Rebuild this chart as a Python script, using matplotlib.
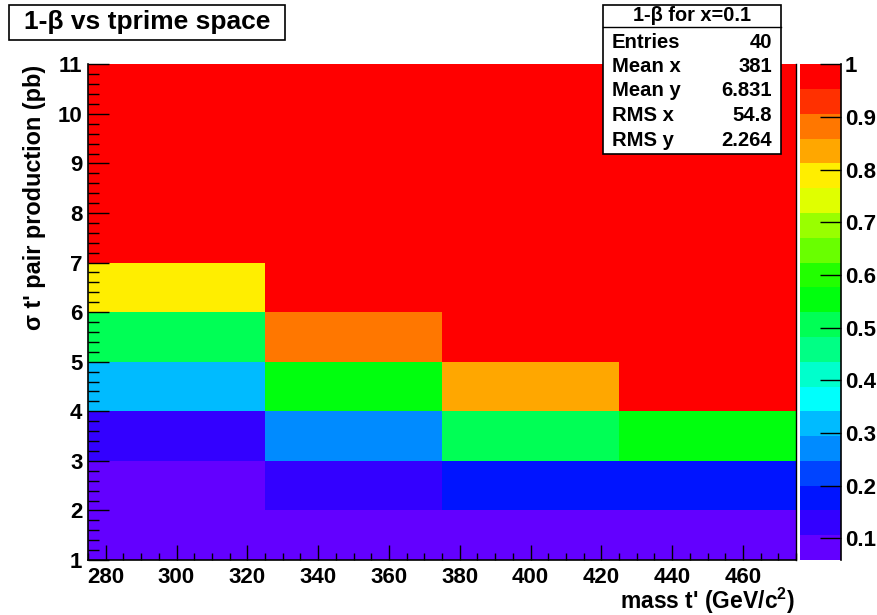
import colorsys
import numpy as np
import matplotlib
matplotlib.use("Agg")
import matplotlib.pyplot as plt
from matplotlib.colors import ListedColormap, BoundaryNorm
from matplotlib.patches import Rectangle
from matplotlib.ticker import MultipleLocator, FuncFormatter

plt.rcParams['font.family'] = ['Liberation Sans', 'DejaVu Sans']
plt.rcParams['font.weight'] = 'bold'
plt.rcParams['mathtext.fontset'] = 'custom'
plt.rcParams['mathtext.bf'] = 'Liberation Sans:bold'
plt.rcParams['mathtext.rm'] = 'Liberation Sans:bold'

# bin edges of the 2D histogram
mass_edges = [275, 325, 375, 425, 475]
xsec_edges = [1, 2, 3, 4, 5, 6, 7, 8, 9, 10, 11]

# 1-beta per mass bin, from 1 pb up to 10 pb
power_m300 = [0.059, 0.085, 0.131, 0.315, 0.505, 0.790, 0.975, 0.995, 1.0, 1.0]
power_m350 = [0.075, 0.128, 0.270, 0.555, 0.880, 0.965, 0.990, 1.0, 1.0, 1.0]
power_m400 = [0.080, 0.178, 0.510, 0.835, 0.970, 0.990, 1.0, 1.0, 1.0, 1.0]
power_m450 = [0.090, 0.185, 0.560, 0.960, 0.985, 1.0, 1.0, 1.0, 1.0, 1.0]

stat_names = ['Entries', 'Mean x', 'Mean y', 'RMS x', 'RMS y']
stat_values = ['40', '381', '6.831', '54.8', '2.264']
z_ticks = [0.1, 0.2, 0.3, 0.4, 0.5, 0.6, 0.7, 0.8, 0.9, 1.0]


def root_palette(ndiv=20, ncolors=50):
    """Violet->red 'pretty' palette, one colour per contour level."""
    cols = []
    for c in range(ndiv):
        i = min(int((c + 0.99) * ncolors / ndiv), ncolors - 1)
        hue = 280.0 - (i + 1) * 280.0 / ncolors
        cols.append(colorsys.hls_to_rgb(hue / 360.0, 0.5, 1.0))
    return ListedColormap(cols)


power = np.array([power_m300, power_m350, power_m400, power_m450]).T
levels = np.linspace(power.min(), power.max(), 21)
cmap = root_palette()
norm = BoundaryNorm(levels, cmap.N)

W, H = 877, 615
fig = plt.figure(figsize=(W / 100, H / 100), dpi=100)


def fx(px):
    return px / W


def fy(py):
    return 1 - py / H


LBL = 16

ax = fig.add_axes([fx(88), fy(560), fx(796 - 88), (560 - 64.3) / H])
mesh = ax.pcolormesh(mass_edges, xsec_edges, power, cmap=cmap, norm=norm,
                     edgecolors='none', antialiased=False)
ax.set_xlim(275, 475)
ax.set_ylim(1, 11)
ax.xaxis.set_major_locator(MultipleLocator(20))
ax.xaxis.set_minor_locator(MultipleLocator(5))
ax.yaxis.set_major_locator(MultipleLocator(1))
ax.yaxis.set_minor_locator(MultipleLocator(0.2))
ax.tick_params(axis='x', which='major', direction='in', length=10.8, width=1.0,
               labelsize=LBL, pad=5, top=False)
ax.tick_params(axis='x', which='minor', direction='in', length=5, width=1.0, top=False)
ax.tick_params(axis='y', which='major', direction='in', length=15.1, width=1.0,
               labelsize=LBL, pad=4, right=False)
ax.tick_params(axis='y', which='minor', direction='in', length=7.7, width=1.0, right=False)
for side in ['left', 'bottom']:
    ax.spines[side].set_linewidth(1.2)
ax.spines['right'].set_linewidth(1.0)
ax.spines['top'].set_visible(False)

# colour scale
cax = fig.add_axes([fx(799.5), fy(560), fx(840.5 - 799.5), (560 - 64.3) / H])
cb = fig.colorbar(mesh, cax=cax, ticks=z_ticks)
cb.outline.set_visible(False)
cb.minorticks_off()
cax.yaxis.set_major_formatter(FuncFormatter(lambda v, p: f'{v:g}'))
cax.tick_params(axis='y', direction='in', length=15.1, width=1.0,
                labelsize=LBL, pad=3, right=True)
cax.plot([1, 1], [0, 1], transform=cax.transAxes, color='black', lw=1.2,
         clip_on=False)

# axis titles
fig.text(fx(795), fy(601), r"mass t' (GeV/c$^{\mathbf{2}}$)", ha='right',
         va='center', fontsize=16.5, fontweight='bold')
fig.text(fx(35), fy(65), "σ t' pair production (pb)", rotation=90,
         ha='center', va='top', fontsize=16.9, fontweight='bold')

# title box
fig.patches.append(Rectangle((fx(9), fy(40)), fx(285 - 9), (40 - 5.5) / H,
                             transform=fig.transFigure, fc='white', ec='black',
                             lw=1.2))
fig.text(fx(147), fy(22.5), '1-β vs tprime space', ha='center', va='center',
         fontsize=19, fontweight='bold')

# statistics box
fig.patches.append(Rectangle((fx(603), fy(154)), fx(781 - 603), (154 - 4.5) / H,
                             transform=fig.transFigure, fc='white', ec='black',
                             lw=1.2, zorder=5))
fig.lines.append(plt.Line2D([fx(603), fx(781)], [fy(26.5), fy(26.5)],
                            transform=fig.transFigure, color='black', lw=1.0,
                            zorder=6))
fig.text(fx(692), fy(15.5), '1-β for x=0.1', ha='center', va='center',
         fontsize=14.4, fontweight='bold', zorder=7)
row_y = [42.7, 66.7, 90.7, 115.2, 140.0]
for name, val, yy in zip(stat_names, stat_values, row_y):
    fig.text(fx(612), fy(yy), name, ha='left', va='center', fontsize=14.6,
             fontweight='bold', zorder=7)
    fig.text(fx(772), fy(yy), val, ha='right', va='center', fontsize=14.6,
             fontweight='bold', zorder=7)

fig.savefig('out.png', dpi=100)
